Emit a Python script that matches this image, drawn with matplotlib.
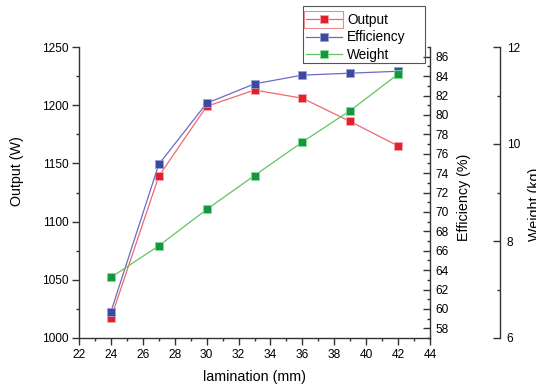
import matplotlib
matplotlib.use("Agg")
import matplotlib.pyplot as plt
from matplotlib.ticker import MultipleLocator
from matplotlib.patches import Rectangle

lamination = [24, 27, 30, 33, 36, 39, 42]
output_w = [1017, 1139, 1199, 1213, 1206, 1186, 1165]
efficiency = [59.7, 74.9, 81.2, 83.2, 84.1, 84.3, 84.5]
weight = [7.25, 7.90, 8.65, 9.35, 10.04, 10.69, 11.44]

plt.rcParams['font.family'] = ['Liberation Sans', 'DejaVu Sans']
AXC = '#333333'
TICK_FS = 8.6
LABEL_FS = 10.3


def style_axis(axis, side, direction, pad):
    axis.tick_params(axis='y', which='major', direction=direction, length=5,
                     width=1.0, color=AXC, labelsize=TICK_FS, pad=pad)
    axis.tick_params(axis='y', which='minor', direction=direction, length=2.5,
                     width=1.0, color=AXC)
    for s in ['top', 'bottom', 'left', 'right']:
        axis.spines[s].set_visible(False)
    axis.spines[side].set_visible(True)
    axis.spines[side].set_color(AXC)
    axis.spines[side].set_linewidth(1.0)


fig = plt.figure(figsize=(5.36, 3.88), dpi=100)
ax = fig.add_axes([79 / 536, 50 / 388, 351 / 536, 291 / 388])
ax2 = ax.twinx()
ax3 = ax.twinx()
ax3.spines['right'].set_position(('axes', 1.2))

# output (left axis)
l1, = ax.plot(lamination, output_w, '-s', color='#f06670', lw=0.9, ms=5.6,
              mfc='#e5202e', mec='#f4a6aa', mew=0.6, label='Output')
# efficiency (first right axis)
l2, = ax2.plot(lamination, efficiency, '-s', color='#6a6cc4', lw=0.9, ms=5.6,
               mfc='#3b4aa0', mec='#9aa0d6', mew=0.6, label='Efficiency')
# weight (offset right axis)
l3, = ax3.plot(lamination, weight, '-s', color='#62c462', lw=0.9, ms=5.6,
               mfc='#10993f', mec='#90d6a0', mew=0.6, label='Weight')

ax.set_xlim(22, 44)
ax.set_ylim(1000, 1250)
ax2.set_ylim(57, 87)
ax3.set_ylim(6, 12)

ax.xaxis.set_major_locator(MultipleLocator(2))
ax.xaxis.set_minor_locator(MultipleLocator(1))
ax.yaxis.set_major_locator(MultipleLocator(50))
ax.yaxis.set_minor_locator(MultipleLocator(25))
ax2.yaxis.set_major_locator(MultipleLocator(2))
ax2.yaxis.set_minor_locator(MultipleLocator(1))
ax3.yaxis.set_major_locator(MultipleLocator(2))
ax3.yaxis.set_minor_locator(MultipleLocator(1))

style_axis(ax, 'left', 'out', 2.5)
ax.spines['bottom'].set_visible(True)
ax.spines['bottom'].set_color(AXC)
ax.spines['bottom'].set_linewidth(1.0)
ax.tick_params(axis='x', which='major', direction='out', length=5, width=1.0,
               color=AXC, labelsize=TICK_FS, pad=3)
ax.tick_params(axis='x', which='minor', direction='out', length=2.5, width=1.0,
               color=AXC)
style_axis(ax2, 'right', 'in', 4.2)
style_axis(ax3, 'right', 'in', 4.8)

ax.set_xlabel('lamination (mm)', fontsize=LABEL_FS)
ax.xaxis.set_label_coords(0.5, -0.11)
ax.set_ylabel('Output (W)', fontsize=LABEL_FS)
ax.yaxis.set_label_coords(-0.157, 0.572)
ax2.set_ylabel('Efficiency (%)', fontsize=LABEL_FS)
ax2.yaxis.set_label_coords(1.077, 0.482)
ax3.set_ylabel('Weight (kg)', fontsize=LABEL_FS)
ax3.yaxis.set_label_coords(1.279, 0.46)

leg = fig.legend([l1, l2, l3], ['Output', 'Efficiency', 'Weight'],
                 loc='upper left', bbox_to_anchor=(303 / 536, 1 - 9.5 / 388),
                 fontsize=9.8, frameon=False, borderaxespad=0,
                 borderpad=0.25, handlelength=2.6, handletextpad=0.4,
                 labelspacing=0.25)

# legend frame, drawn wider than the entries
fig.patches.append(Rectangle((303 / 536, 1 - 62.5 / 388), 122 / 536, 56.5 / 388,
                             transform=fig.transFigure, fill=False,
                             edgecolor='#555555', lw=0.8))
# selection frame around the first legend handle
fig.patches.append(Rectangle((304 / 536, 1 - 28 / 388), 39 / 536, 17 / 388,
                             transform=fig.transFigure, fill=False,
                             edgecolor='#f08a8a', lw=0.8))

fig.savefig('out.png', dpi=100)
